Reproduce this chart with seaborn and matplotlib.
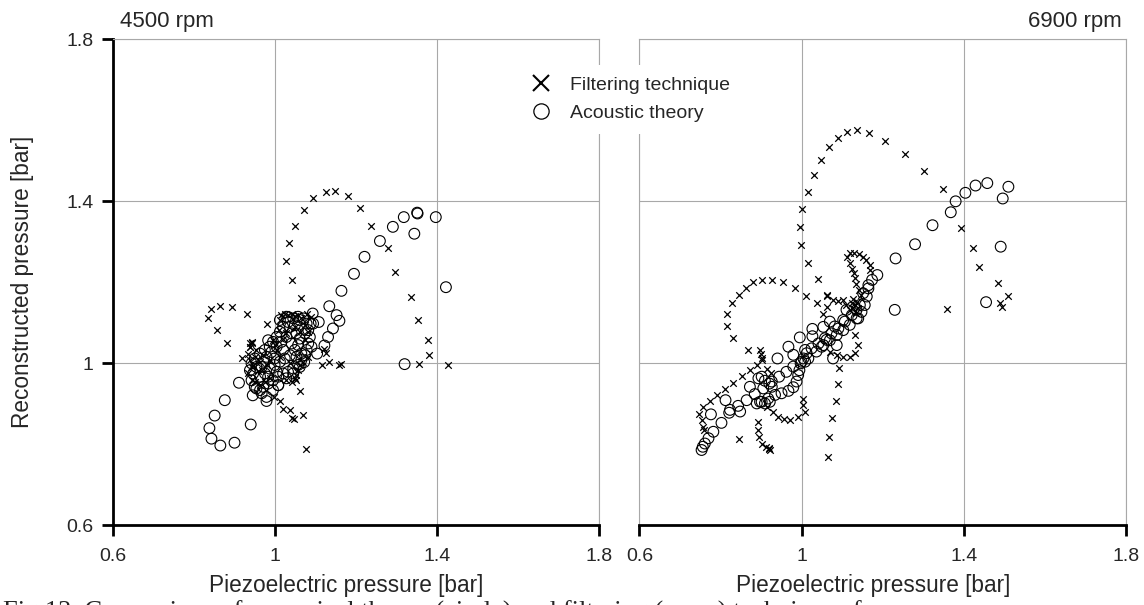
import matplotlib
matplotlib.use("Agg")
import matplotlib.pyplot as plt
from matplotlib.lines import Line2D
import seaborn as sns
import pandas as pd

# ---------------- data (bar) ----------------
# 4500 rpm, filtering technique (crosses)
rpm4500_filter_x = [1.027, 1.043, 1.065, 1.034, 1.049, 1.072, 1.095, 1.125, 1.149, 1.180, 1.210, 1.238, 1.278, 1.297, 1.337,
                    1.353, 1.377, 1.379, 1.356, 1.427, 1.116, 1.133, 1.157, 1.162, 1.125, 1.120,
                    0.835, 0.843, 0.863, 0.894, 0.931, 0.856, 0.882, 0.919, 0.980,
                    0.997, 1.012, 1.020, 1.036, 1.043, 1.047, 1.068, 1.062, 1.076, 0.942, 0.939, 1.052,
                    1.016, 1.024, 1.032, 1.041, 1.049, 1.057, 1.065, 1.012, 1.010, 0.938, 0.942, 0.939, 0.934, 0.938,
                    0.942, 0.934, 0.942, 0.950, 0.963, 0.975, 0.987, 1.028, 1.041, 1.049, 1.053, 1.057, 1.061, 1.070,
                    1.082, 1.078, 1.090, 1.049, 1.061, 1.074, 1.004, 1.012, 0.987, 0.979, 1.037, 0.967, 0.995, 1.028,
                    0.954, 0.950, 0.963, 1.074, 1.082, 0.946, 0.958, 0.970, 1.000, 1.020]
rpm4500_filter_y = [1.252, 1.205, 1.161, 1.296, 1.339, 1.378, 1.407, 1.424, 1.426, 1.413, 1.384, 1.338, 1.285, 1.225, 1.164,
                    1.108, 1.058, 1.021, 0.998, 0.995, 0.995, 1.003, 0.995, 0.999, 1.025, 1.035,
                    1.113, 1.133, 1.142, 1.139, 1.123, 1.083, 1.049, 1.012, 1.096,
                    0.917, 0.906, 0.886, 0.884, 0.866, 0.863, 0.872, 0.931, 0.788, 1.049, 1.040, 0.958,
                    1.119, 1.121, 1.119, 1.121, 1.116, 1.119, 1.113, 1.107, 1.082, 1.049, 1.053, 1.041, 1.024, 1.008,
                    0.991, 0.975, 0.958, 0.954, 0.946, 0.954, 0.963, 0.958, 0.954, 0.963, 0.971, 0.983, 0.996, 1.004,
                    1.016, 1.123, 1.115, 1.090, 1.078, 1.057, 1.033, 1.016, 1.008, 0.996, 1.000, 0.983, 1.057, 1.074,
                    1.033, 1.016, 1.004, 1.094, 1.078, 0.996, 0.980, 1.020, 1.045, 1.060]

# 4500 rpm, acoustic theory (circles)
rpm4500_acoustic_x = [1.164, 1.195, 1.221, 1.259, 1.291, 1.318, 1.351, 1.352, 1.344, 1.397, 1.422, 1.320,
                      1.134, 1.152, 1.159, 1.143, 1.131, 1.122, 1.104, 1.093, 1.108, 1.088, 1.072,
                      0.911, 0.876, 0.851, 0.838, 0.843, 0.865, 0.900, 0.940, 0.945, 0.979, 1.008,
                      0.938, 0.942, 0.950, 0.963, 0.971, 0.983, 0.995, 1.008, 1.020, 1.032, 1.045, 1.057, 1.065,
                      1.074, 1.078, 1.082, 1.086, 1.082, 1.078, 1.070, 1.057, 1.045, 1.032, 1.020, 1.012, 1.004,
                      0.995, 0.987, 0.975, 0.963, 0.950, 0.942,
                      0.963, 0.975, 0.987, 0.999, 1.012, 1.024, 1.037, 1.049, 1.057, 1.061, 1.053, 1.041, 1.028,
                      1.016, 1.004, 0.991, 0.979, 0.971, 0.967,
                      0.954, 0.967, 0.979, 1.008, 1.028, 1.045, 1.061, 1.090, 1.094, 1.037, 1.049, 1.020, 0.999,
                      0.983, 1.012, 1.028, 1.061, 1.074, 0.954, 0.946, 0.983, 1.004, 1.041, 1.053, 1.065, 0.995]
rpm4500_acoustic_y = [1.179, 1.221, 1.263, 1.302, 1.337, 1.361, 1.372, 1.370, 1.320, 1.361, 1.188, 0.998,
                      1.141, 1.119, 1.105, 1.086, 1.065, 1.044, 1.024, 1.123, 1.102, 1.098, 1.003,
                      0.952, 0.909, 0.871, 0.840, 0.814, 0.797, 0.804, 0.849, 0.921, 0.907, 0.946,
                      0.983, 0.958, 0.942, 0.934, 0.942, 0.950, 0.958, 0.967, 0.975, 0.979, 0.987, 0.996, 1.008,
                      1.020, 1.033, 1.049, 1.065, 1.082, 1.098, 1.111, 1.115, 1.111, 1.102, 1.090, 1.078, 1.065,
                      1.053, 1.041, 1.033, 1.024, 1.012, 1.000,
                      0.967, 0.975, 0.987, 0.996, 1.004, 1.012, 1.020, 1.033, 1.045, 1.061, 1.074, 1.074, 1.065,
                      1.053, 1.041, 1.028, 1.016, 1.004, 0.991,
                      0.938, 0.926, 0.917, 0.946, 0.963, 0.975, 0.991, 1.041, 1.098, 1.090, 1.094, 1.033, 1.012,
                      1.057, 1.107, 1.115, 1.107, 1.074, 0.991, 0.975, 0.967, 0.979, 1.049, 1.016, 1.024, 0.934]

# 6900 rpm, filtering technique (crosses)
rpm6900_filter_x = [1.014, 1.031, 1.047, 1.067, 1.088, 1.112, 1.135, 1.166, 1.206, 1.255, 1.301, 1.348, 1.391, 1.421,
                    1.437, 1.483, 1.508, 1.489, 1.493, 1.358,
                    1.001, 0.995, 0.999, 1.016, 1.039, 1.011, 1.063,
                    0.816, 0.816, 0.831, 0.829, 0.844, 0.862, 0.880, 0.902, 0.927, 0.953, 0.982, 1.038, 0.868,
                    1.112, 1.119, 1.128, 1.141, 1.150, 1.159, 1.167, 1.168, 1.119, 1.123, 1.128, 1.130, 1.134,
                    1.140, 1.147,
                    0.747, 0.753, 0.757, 0.759, 0.757, 0.774, 0.792, 0.811, 0.831, 0.852, 0.872, 0.889, 0.903,
                    0.898, 0.900, 0.902, 0.846,
                    0.893, 0.893, 0.894, 0.903, 0.912, 0.920, 0.921, 0.918,
                    0.913, 0.930, 0.942, 0.956, 0.972, 0.991, 1.008, 1.003, 1.002,
                    1.091, 1.090, 1.083, 1.074, 1.066, 1.064,
                    1.069, 1.086, 1.102, 1.118, 1.131, 1.139, 1.132,
                    1.053, 1.061, 1.063, 1.077, 1.090, 1.102,
                    1.123, 1.131, 1.127, 1.135, 1.139, 1.119, 1.110, 1.125, 1.133, 0.915, 0.925]
rpm6900_filter_y = [1.422, 1.465, 1.501, 1.533, 1.557, 1.572, 1.576, 1.569, 1.548, 1.516, 1.476, 1.431, 1.333, 1.285,
                    1.239, 1.198, 1.166, 1.148, 1.140, 1.134,
                    1.381, 1.337, 1.293, 1.248, 1.207, 1.167, 1.167,
                    1.121, 1.093, 1.063, 1.148, 1.169, 1.187, 1.200, 1.206, 1.206, 1.200, 1.185, 1.148, 1.033,
                    1.262, 1.272, 1.273, 1.270, 1.263, 1.255, 1.243, 1.230, 1.247, 1.234, 1.222, 1.210, 1.197,
                    1.181, 1.169,
                    0.876, 0.860, 0.843, 0.835, 0.893, 0.908, 0.921, 0.936, 0.952, 0.969, 0.983, 0.996, 1.008,
                    1.033, 1.023, 1.012, 0.813,
                    0.856, 0.835, 0.817, 0.802, 0.794, 0.788, 0.786, 0.790,
                    0.893, 0.881, 0.868, 0.862, 0.860, 0.867, 0.879, 0.897, 0.913,
                    0.988, 0.948, 0.908, 0.865, 0.819, 0.769,
                    1.029, 1.020, 1.016, 1.016, 1.025, 1.045, 1.070,
                    1.123, 1.138, 1.169, 1.156, 1.155, 1.156,
                    1.148, 1.144, 1.136, 1.152, 1.136, 1.132, 1.144, 1.160, 1.125, 0.985, 0.975]

# 6900 rpm, acoustic theory (circles)
rpm6900_acoustic_x = [1.403, 1.428, 1.457, 1.509, 1.495, 1.379, 1.367, 1.322, 1.279, 1.231, 1.186, 1.490, 1.454,
                      1.229, 1.173, 1.164,
                      0.753, 0.756, 0.761, 0.770, 0.782, 0.802, 0.821, 0.843, 0.864, 0.884, 0.905, 0.926, 0.944,
                      0.962, 0.979, 0.999, 1.016, 1.036, 1.053, 1.069, 1.086, 1.102, 1.118, 1.135, 1.147, 1.155,
                      1.160, 1.164,
                      0.889, 0.901, 0.917, 0.934, 0.950, 0.967, 0.979, 0.987, 0.991, 0.994, 0.997, 1.004, 1.012,
                      1.024, 1.041, 1.057, 1.073, 1.090, 1.106, 1.123, 1.135, 1.143,
                      0.893, 0.901, 0.909, 0.920, 0.926, 0.897, 0.909, 0.921,
                      0.776, 0.812, 0.823, 0.848, 0.872, 0.940, 0.967, 0.995, 1.026, 1.026, 1.008, 1.008, 0.979,
                      1.077, 1.086, 1.053, 1.069, 1.081, 1.102, 1.110, 1.139, 1.151, 1.049, 1.061]
rpm6900_acoustic_y = [1.421, 1.439, 1.445, 1.436, 1.407, 1.400, 1.373, 1.341, 1.294, 1.259, 1.218, 1.288, 1.151,
                      1.132, 1.206, 1.193,
                      0.786, 0.794, 0.802, 0.815, 0.831, 0.853, 0.878, 0.895, 0.909, 0.924, 0.938, 0.955, 0.967,
                      0.979, 0.992, 1.004, 1.012, 1.029, 1.045, 1.057, 1.070, 1.082, 1.095, 1.111, 1.127, 1.144,
                      1.165, 1.185,
                      0.901, 0.905, 0.913, 0.922, 0.926, 0.932, 0.941, 0.955, 0.971, 0.983, 1.000, 1.012, 1.025,
                      1.037, 1.049, 1.062, 1.074, 1.086, 1.103, 1.119, 1.132, 1.144,
                      0.963, 0.967, 0.957, 0.950, 0.942, 0.905, 0.901, 0.905,
                      0.874, 0.909, 0.885, 0.881, 0.942, 1.012, 1.041, 1.064, 1.085, 1.067, 1.033, 1.004, 1.021,
                      1.012, 1.045, 1.090, 1.103, 1.091, 1.107, 1.132, 1.111, 1.173, 1.041, 1.058]

ticks = [0.6, 1.0, 1.4, 1.8]
tick_labels = ["0.6", "1", "1.4", "1.8"]
panel_titles = ["4500 rpm", "6900 rpm"]
series_labels = ["Filtering technique", "Acoustic theory"]
x_label = "Piezoelectric pressure [bar]"
y_label = "Reconstructed pressure [bar]"
caption = "Fig.13  Comparison of numerical theory (circle) and filtering (cross) techniques for pressure"

# ---------------- styling ----------------
sns.set_style("white")
plt.rcParams["font.family"] = ["Liberation Sans", "DejaVu Sans"]

GRID = "#a8a8a8"

fig = plt.figure(figsize=(11.44, 6.05), dpi=100)
ax1 = fig.add_axes([0.0988, 0.1317, 0.4248, 0.8033])
ax2 = fig.add_axes([0.5590, 0.1317, 0.4257, 0.8033])

panels = [
    (ax1, rpm4500_filter_x, rpm4500_filter_y, rpm4500_acoustic_x, rpm4500_acoustic_y),
    (ax2, rpm6900_filter_x, rpm6900_filter_y, rpm6900_acoustic_x, rpm6900_acoustic_y),
]

for ax, fx, fy, cx, cy in panels:
    df_f = pd.DataFrame({"x": fx, "y": fy})
    df_c = pd.DataFrame({"x": cx, "y": cy})
    sns.scatterplot(data=df_c, x="x", y="y", ax=ax, marker="o", s=60,
                    color="black", facecolor="none", edgecolor="black",
                    linewidth=0.8, zorder=3, legend=False)
    sns.scatterplot(data=df_f, x="x", y="y", ax=ax, marker="x", s=22,
                    color="black", linewidth=0.9, zorder=4, legend=False)
    ax.set_xlim(0.6, 1.8)
    ax.set_ylim(0.6, 1.8)
    ax.set_xticks(ticks)
    ax.set_xticklabels(tick_labels)
    ax.set_yticks(ticks)
    ax.set_yticklabels(tick_labels)
    ax.grid(True, color=GRID, linewidth=0.8)
    ax.set_axisbelow(True)
    for side in ["top", "right", "left"]:
        ax.spines[side].set_color(GRID)
        ax.spines[side].set_linewidth(0.8)
    ax.spines["bottom"].set_color("black")
    ax.spines["bottom"].set_linewidth(2.0)
    ax.tick_params(axis="x", direction="out", length=8, width=2, color="black",
                   labelsize=14, pad=8, bottom=True)
    ax.set_xlabel(x_label, fontsize=16.3)
    ax.xaxis.set_label_coords(0.48, -0.124)
    ax.xaxis.label.set_verticalalignment("center")
    ax.set_ylabel("")

# left panel: black left axis with ticks
ax1.spines["left"].set_color("black")
ax1.spines["left"].set_linewidth(2.0)
ax1.tick_params(axis="y", direction="out", length=8, width=2, color="black",
                labelsize=14, pad=6, left=True)
ax1.set_ylabel(y_label, fontsize=16.3, va="center")
ax1.yaxis.set_label_coords(-0.187, 0.5)

# right panel: no y ticks
ax2.tick_params(axis="y", left=False, labelleft=False)

# titles
fig.text(120 / 1144, 1 - 22 / 605, panel_titles[0], fontsize=16, ha="left", va="center")
fig.text(1122 / 1144, 1 - 21 / 605, panel_titles[1], fontsize=16, ha="right", va="center")

# legend
handles = [
    Line2D([], [], marker="x", ls="none", color="black", markersize=11, markeredgewidth=1.5),
    Line2D([], [], marker="o", ls="none", markerfacecolor="none", markeredgecolor="black",
           markersize=11, markeredgewidth=0.9),
]
leg = fig.legend(handles, series_labels, loc="upper left",
                 bbox_to_anchor=(508 / 1144, 1 - 55 / 605), frameon=True,
                 facecolor="white", edgecolor="none", framealpha=1, fontsize=14,
                 handletextpad=0.9, labelspacing=0.55, borderpad=0.6, handlelength=1.2)

# caption (partly cut off at the bottom, as in the source)
fig.text(0.003, 1 - 601 / 605, caption, fontsize=19, ha="left", va="top",
         family=["Liberation Serif", "DejaVu Serif"])

fig.savefig("out.png", dpi=100)
